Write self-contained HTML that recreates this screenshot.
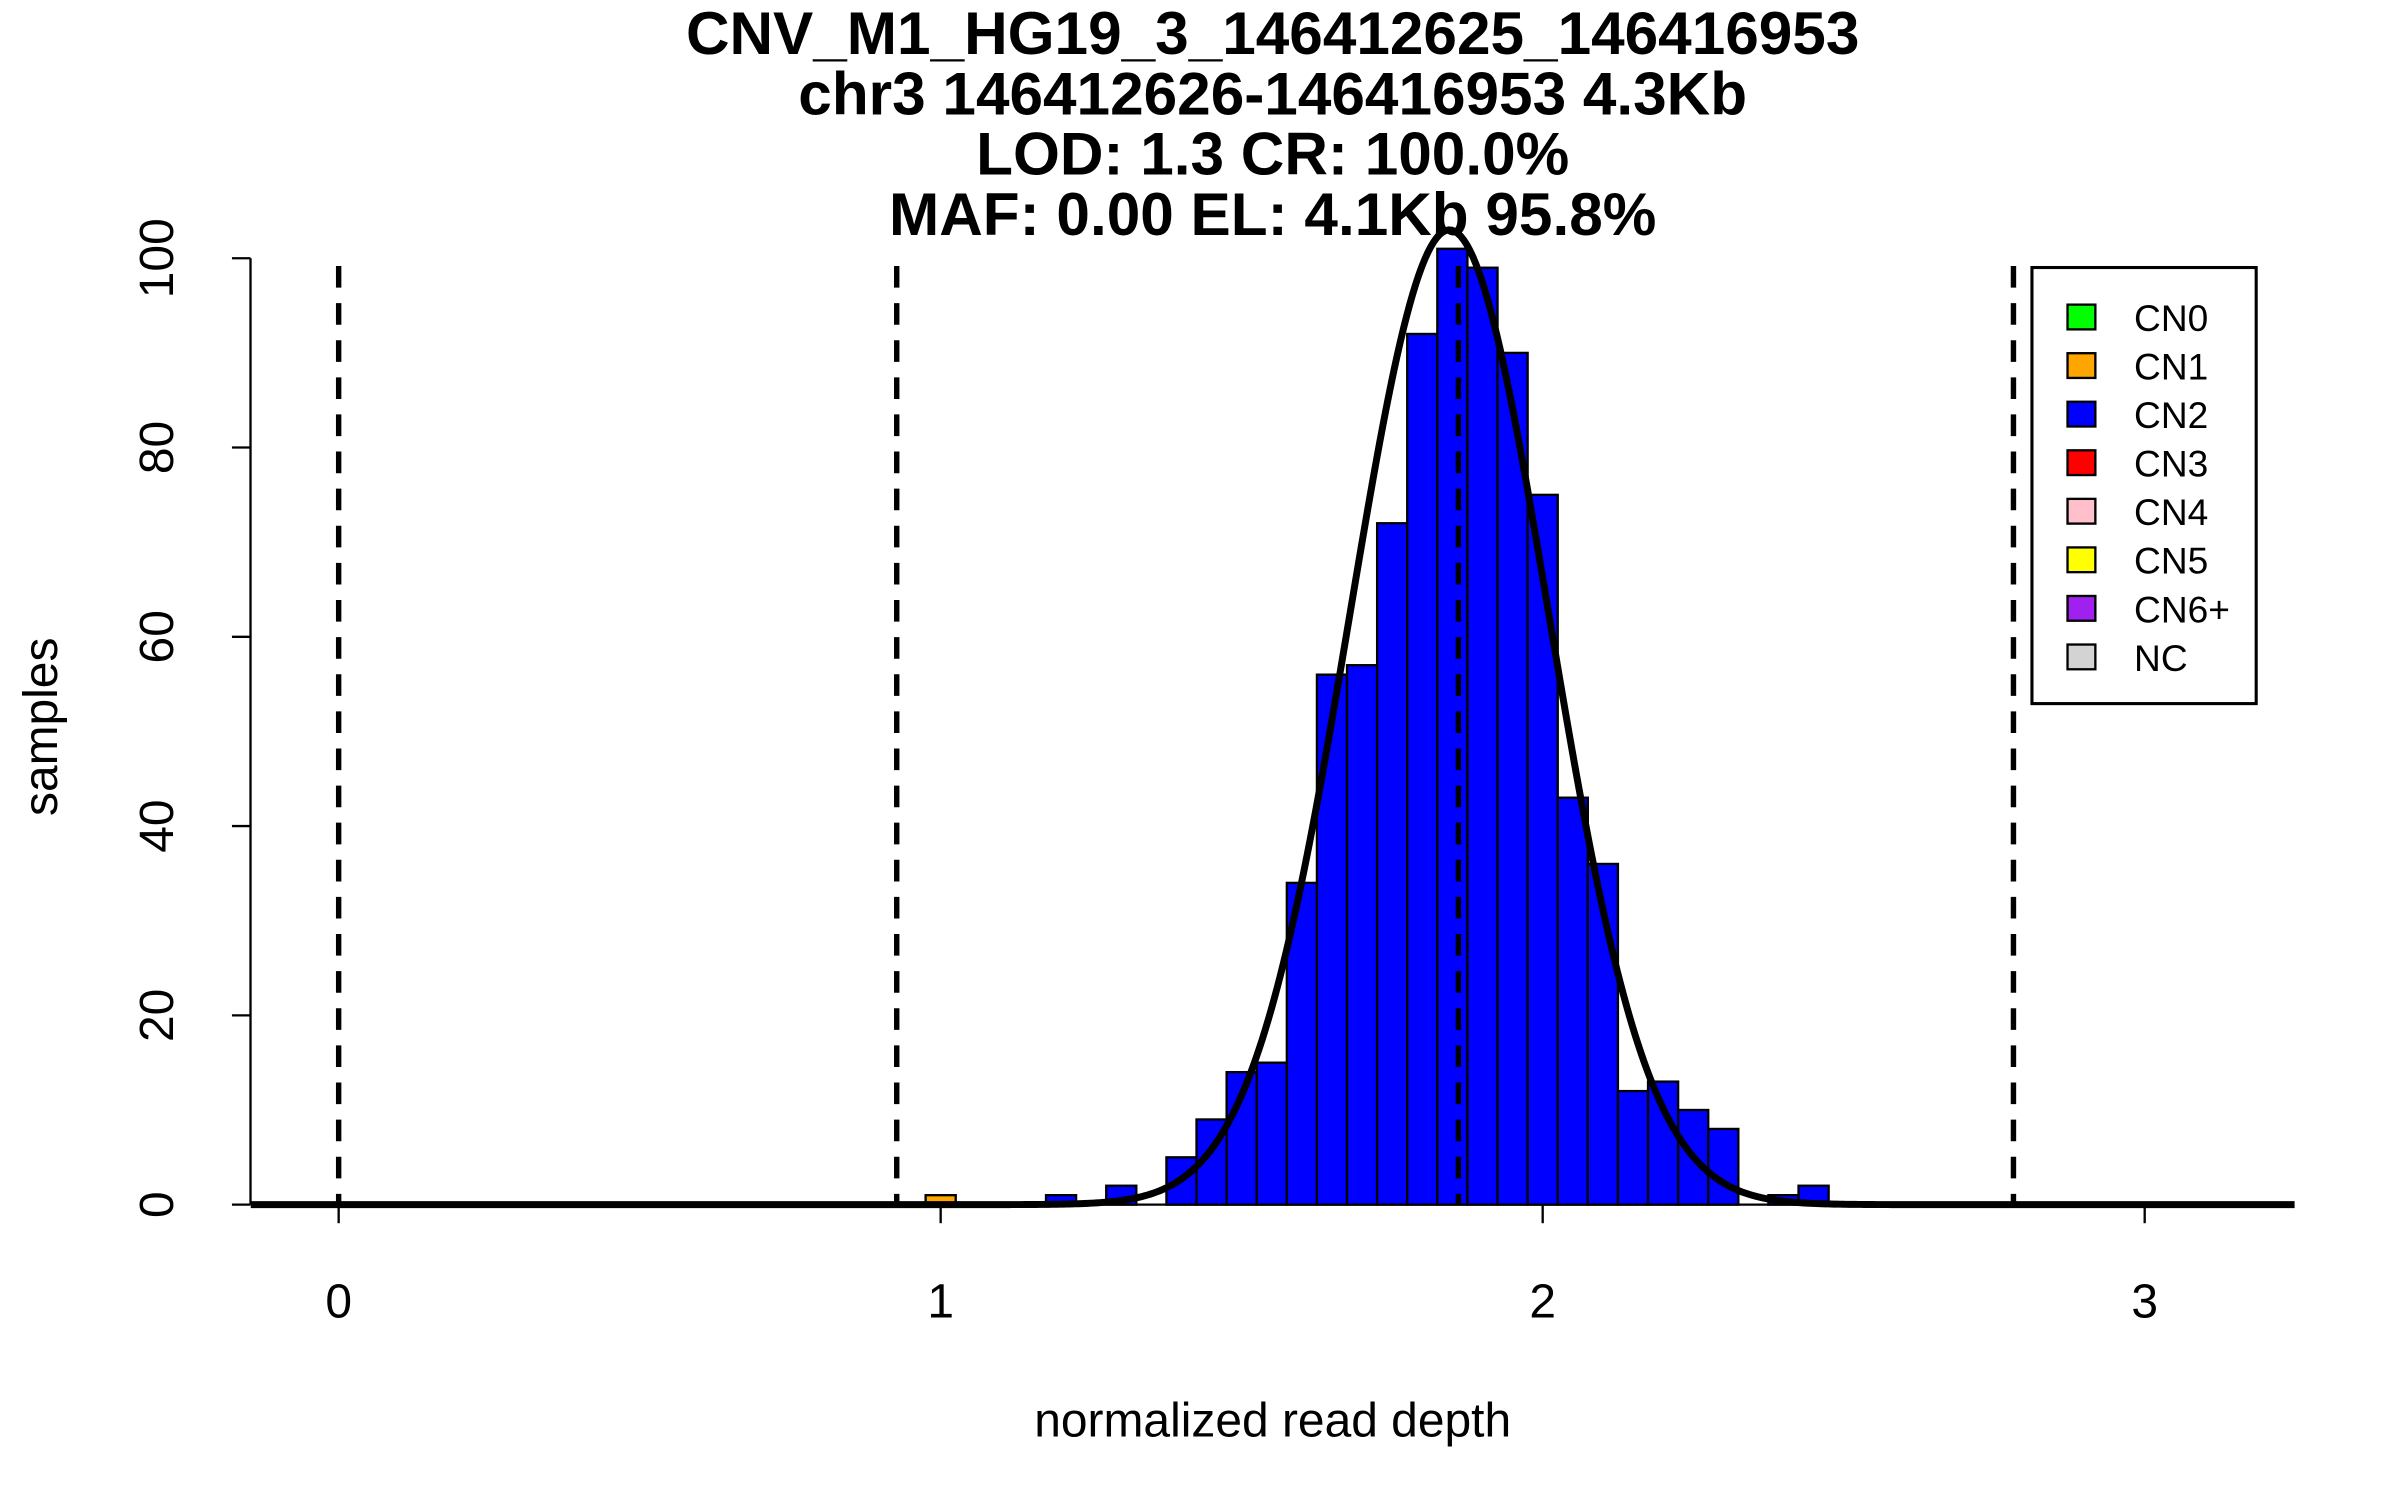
<!DOCTYPE html>
<html><head><meta charset="utf-8"><style>
html,body{margin:0;padding:0;background:#fff;}
svg{display:block;font-family:"Liberation Sans",Arial,sans-serif;}
</style></head><body>
<svg id="chart" width="2400" height="1500" viewBox="0 0 1552 970" xmlns="http://www.w3.org/2000/svg">
<rect x="0" y="0" width="1552" height="970" fill="#fff"/>
<g font-weight="bold" font-size="39" text-anchor="middle" fill="#000">
<text x="823" y="35">CNV_M1_HG19_3_146412625_146416953</text>
<text x="823" y="74">chr3 146412626-146416953 4.3Kb</text>
<text x="823" y="113">LOD: 1.3 CR: 100.0%</text>
<text x="823" y="152">MAF: 0.00 EL: 4.1Kb 95.8%</text>
</g>
<g id="bars"></g>
<g id="vlines"></g>
<path id="curve" fill="none" stroke="#000" stroke-width="4.5"/>
<g id="axes" font-size="31" fill="#000"></g>
<text x="823" y="929" font-size="31" text-anchor="middle">normalized read depth</text>
<text transform="translate(37,470) rotate(-90)" font-size="31" text-anchor="middle">samples</text>
<g id="legend"></g>
</svg>
<script>
const binCenters = [1.0, 1.2, 1.3, 1.4, 1.45, 1.5, 1.55, 1.6, 1.65, 1.7, 1.75, 1.8, 1.85, 1.9, 1.95, 2.0, 2.05, 2.1, 2.15, 2.2, 2.25, 2.3, 2.4, 2.45];
const binCounts  = [1, 1, 2, 5, 9, 14, 15, 34, 56, 57, 72, 92, 101, 99, 90, 75, 43, 36, 12, 13, 10, 8, 1, 2];
const binClass   = ['CN1','CN2','CN2','CN2','CN2','CN2','CN2','CN2','CN2','CN2','CN2','CN2','CN2','CN2','CN2','CN2','CN2','CN2','CN2','CN2','CN2','CN2','CN2','CN2'];
const binWidth = 0.05;
const thresholds = [0, 0.927, 1.86, 2.782];
const curveMean = [1.845];
const curveSd = [0.165];
const curvePeak = [103];
const xTicks = [0, 1, 2, 3];
const yTicks = [0, 20, 40, 60, 80, 100];
const legendLabels = ['CN0','CN1','CN2','CN3','CN4','CN5','CN6+','NC'];
const legendColors = ['#00FF00','#FFA500','#0000FF','#FF0000','#FFC0CB','#FFFF00','#A020F0','#D3D3D3'];

const NS = 'http://www.w3.org/2000/svg';
const X0 = 219, XU = 389.3, Y0 = 779, YU = 6.12;
function sx(v){ return X0 + v*XU; }
function sy(v){ return Y0 - v*YU; }
function mk(tag, attrs, parent){ const e=document.createElementNS(NS,tag); for(const k in attrs) e.setAttribute(k,attrs[k]); parent.appendChild(e); return e; }
const colorOf = {}; legendLabels.forEach((l,i)=>colorOf[l]=legendColors[i]);

const gb = document.getElementById('bars');
binCenters.forEach((c,i)=>{
  const x1 = sx(c-binWidth/2), x2 = sx(c+binWidth/2);
  const r = mk('rect',{x:x1,y:sy(binCounts[i]),width:x2-x1,height:sy(0)-sy(binCounts[i]),fill:colorOf[binClass[i]],stroke:'#000','stroke-width':1.5},gb);
  
  
});

const gv = document.getElementById('vlines');
thresholds.forEach(t=>{
  const l = mk('line',{x1:sx(t),x2:sx(t),y1:172,y2:Y0,stroke:'#000','stroke-width':3.5,'stroke-dasharray':'14 10'},gv);
  
  
});

let d='';
for(let v=-0.146; v<=3.25; v+=0.005){
  const z=(v-curveMean[0])/curveSd[0];
  const y=curvePeak[0]*Math.exp(-0.5*z*z);
  d += (d?'L':'M') + sx(v).toFixed(2) + ' ' + sy(y).toFixed(2);
}
document.getElementById('curve').setAttribute('d', d);

const ga = document.getElementById('axes');
mk('line',{x1:162,x2:162,y1:sy(100),y2:sy(0),stroke:'#000','stroke-width':1.5},ga);
yTicks.forEach(t=>{
  mk('line',{x1:150,x2:162,y1:sy(t),y2:sy(t),stroke:'#000','stroke-width':1.5},ga);
  const tx = mk('text',{transform:`translate(112,${sy(t)}) rotate(-90)`,'text-anchor':'middle'},ga);
  tx.textContent = t;
  
  
});
mk('line',{x1:sx(xTicks[0]),x2:sx(xTicks[xTicks.length-1]),y1:Y0,y2:Y0,stroke:'#000','stroke-width':1.5},ga);
xTicks.forEach(t=>{
  mk('line',{x1:sx(t),x2:sx(t),y1:Y0,y2:Y0+12,stroke:'#000','stroke-width':1.5},ga);
  const tx = mk('text',{x:sx(t),y:852,'text-anchor':'middle'},ga);
  tx.textContent = t;
  
  
});

const gl = document.getElementById('legend');
mk('rect',{x:1314,y:173,width:145,height:282,fill:'#fff',stroke:'#000','stroke-width':2},gl);
legendLabels.forEach((l,i)=>{
  const y = 205 + i*31.4;
  const s = mk('rect',{x:1337,y:y-8,width:18,height:16,fill:legendColors[i],stroke:'#000','stroke-width':1.5},gl);
  
  
  const t = mk('text',{x:1380,y:y+9,'font-size':24},gl);
  t.textContent = l;
  
  
});
</script>
</body></html>
